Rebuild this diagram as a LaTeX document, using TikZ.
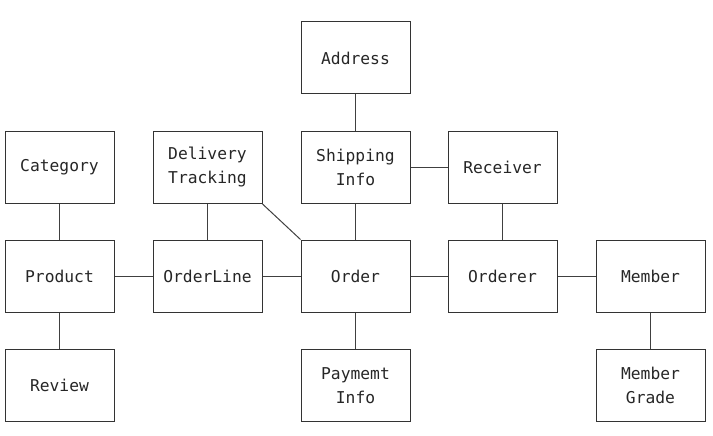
\documentclass[tikz,border=0pt]{standalone}
\usepackage{fontspec}
\setmonofont{DejaVu Sans Mono}
\begin{document}
\begin{tikzpicture}[x=1pt,y=-1pt,
  ent/.style={draw=black!80, line width=1pt, minimum width=109pt, minimum height=72pt,
    inner sep=0pt, align=center, font=\ttfamily\fontsize{16.3}{24}\selectfont, text=black!85},
  link/.style={draw=black!75, line width=1pt}]
\useasboundingbox (0,0) rectangle (713,436);
\node[ent] (address) at (355.5,58) {Address};
\node[ent] (category) at (59.5,167.5) {Category};
\node[ent] (delivery) at (207.5,167.5) {Delivery\\Tracking};
\node[ent] (shipping) at (355.5,167.5) {Shipping\\Info};
\node[ent] (receiver) at (502.5,167.5) {Receiver};
\node[ent] (product) at (59.5,276) {Product};
\node[ent] (orderline) at (207.5,276) {OrderLine};
\node[ent] (order) at (355.5,276) {Order};
\node[ent] (orderer) at (502.5,276) {Orderer};
\node[ent] (member) at (650.5,276) {Member};
\node[ent] (review) at (59.5,385.5) {Review};
\node[ent] (payment) at (355.5,385.5) {Paymemt\\Info};
\node[ent] (grade) at (650.5,385.5) {Member\\Grade};
\draw[link] (address) -- (shipping);
\draw[link] (shipping) -- (order);
\draw[link] (shipping) -- (receiver);
\draw[link] (receiver) -- (orderer);
\draw[link] (category) -- (product);
\draw[link] (product) -- (review);
\draw[link] (product) -- (orderline);
\draw[link] (delivery) -- (orderline);
\draw[link] (delivery.south east) -- (order.north west);
\draw[link] (orderline) -- (order);
\draw[link] (order) -- (orderer);
\draw[link] (order) -- (payment);
\draw[link] (orderer) -- (member);
\draw[link] (member) -- (grade);
\end{tikzpicture}
\end{document}
